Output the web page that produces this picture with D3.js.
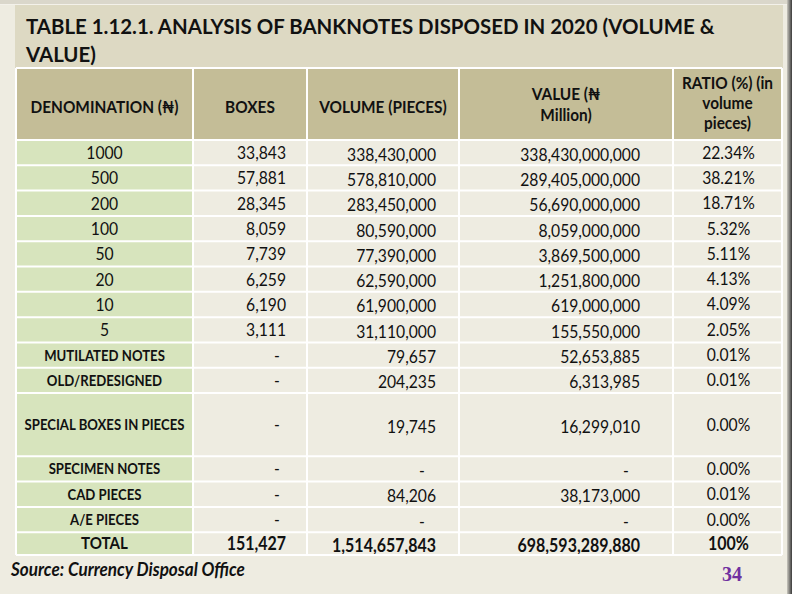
<!DOCTYPE html>
<html><head><meta charset="utf-8">
<script src="https://cdn.jsdelivr.net/npm/d3@7"></script>
<style>
html,body{margin:0;padding:0;background:#EEECE1;}
svg{display:block;}
</style></head>
<body>
<script>
// ---------- DATA ----------
const titleLines = ["TABLE 1.12.1. ANALYSIS OF BANKNOTES DISPOSED IN 2020 (VOLUME &", "VALUE)"];
const headers = [["DENOMINATION (₦)"], ["BOXES"], ["VOLUME (PIECES)"], ["VALUE (₦", "Million)"], ["RATIO (%) (in", "volume", "pieces)"]];
const categories = ["1000","500","200","100","50","20","10","5","MUTILATED NOTES","OLD/REDESIGNED","SPECIAL BOXES IN PIECES","SPECIMEN NOTES","CAD PIECES","A/E PIECES","TOTAL"];
const boxes  = [33843,57881,28345,8059,7739,6259,6190,3111,null,null,null,null,null,null,151427];
const volume = [338430000,578810000,283450000,80590000,77390000,62590000,61900000,31110000,79657,204235,19745,null,84206,null,1514657843];
const value  = [338430000000,289405000000,56690000000,8059000000,3869500000,1251800000,619000000,155550000,52653885,6313985,16299010,null,38173000,null,698593289880];
const ratio  = [22.34,38.21,18.71,5.32,5.11,4.13,4.09,2.05,0.01,0.01,0.00,0.00,0.01,0.00,100];
const sourceText = "Source: Currency Disposal Office";
const pageNumber = "34";

// ---------- LAYOUT ----------
const W = 792, H = 594;
const FONT = "Lato, 'Open Sans', 'DejaVu Sans', sans-serif";
const K = 0.88; // horizontal condensing to mimic a narrow humanist face
const colEdges = [16, 193, 307, 459, 673, 782];
const rowUnits = categories.map(c => c === "SPECIAL BOXES IN PIECES" ? 2.5 : (c === "TOTAL" ? 0.9 : 1));
const bodyTop = 140, bodyBottom = 555, headTop = 68;
const cum = [0]; rowUnits.forEach(u => cum.push(cum[cum.length-1] + u));
const y = d3.scaleLinear().domain([0, cum[cum.length-1]]).range([bodyTop, bodyBottom]);
const x = d3.scaleOrdinal().domain(d3.range(5)).range(colEdges.slice(0,5));
const colW = i => colEdges[i+1] - colEdges[i];

const svg = d3.select("body").append("svg").attr("width", W).attr("height", H);

function fit(text, target, weight, style, k) {
  const t = svg.append("text").attr("font-family", FONT).attr("font-size", 20)
    .attr("font-weight", weight).attr("font-style", style || "normal").text(text);
  const w = t.node().getComputedTextLength(); t.remove();
  return 20 * (target / (k || K)) / w;
}
const fsTitle = fit(titleLines[0], 689, "bold", "normal", 1);
const fsBody = fit("338,430,000", 89, "normal");
const fsHead = fit("DENOMINATION (₦)", 148, "bold");
const fsLabel = fit("SPECIAL BOXES IN PIECES", 160, "bold");
const fsTotal = fit("1,514,657,843", 104, "bold");
const fsSource = fit(sourceText, 234, "bold", "italic");

// background pieces
svg.append("rect").attr("x",0).attr("y",0).attr("width",W).attr("height",H).attr("fill","#EEECE1");
svg.append("rect").attr("x",0).attr("y",0).attr("width",W).attr("height",4).attr("fill","#DAD7CB");
svg.append("rect").attr("x",0).attr("y",4).attr("width",W).attr("height",1).attr("fill","#F3F1EA");
svg.append("rect").attr("x",15).attr("y",5).attr("width",768).attr("height",63).attr("fill","#DDD9C3");
const grad = svg.append("defs").append("linearGradient").attr("id","edge").attr("x1","0").attr("x2","1");
grad.append("stop").attr("offset","0").attr("stop-color","#C9C7BE");
grad.append("stop").attr("offset","1").attr("stop-color","#3A3A3A");
svg.append("rect").attr("x",787).attr("y",0).attr("width",5).attr("height",H).attr("fill","url(#edge)");

// title
svg.append("g").selectAll("text").data(titleLines).join("text")
  .attr("x", 26).attr("y", (d,i) => 34 + i*28)
  .attr("font-family", FONT).attr("font-weight","bold").attr("font-size", fsTitle)
  .attr("fill","#111").text(d => d);

// header cells
const head = svg.append("g");
head.selectAll("rect").data(headers).join("rect")
  .attr("x", (d,i) => x(i)).attr("y", headTop).attr("width", (d,i) => colW(i)).attr("height", bodyTop - headTop)
  .attr("fill","#C4BD97");
const headBase = [[113],[113],[113],[100,121],[89,109,129]];
headers.forEach((lines, i) => {
  head.append("g").selectAll("text").data(lines).join("text").attr("class","cond")
    .attr("x", x(i) + colW(i)/2).attr("y", (d,j) => headBase[i][j])
    .attr("text-anchor","middle").attr("font-family", FONT).attr("font-weight","bold")
    .attr("font-size", fsHead).attr("fill","#111").text(d => d);
});

// body cells
const rows = categories.map((c,i) => ({c, i, top: y(cum[i]), bot: y(cum[i+1]),
  vals: [c, boxes[i], volume[i], value[i], ratio[i]]}));
const body = svg.append("g");
const fmt = d3.format(",");
rows.forEach(r => {
  const g = body.append("g");
  g.selectAll("rect").data(d3.range(5)).join("rect")
    .attr("x", i => x(i)).attr("y", r.top).attr("width", i => colW(i)).attr("height", r.bot - r.top)
    .attr("fill", i => i === 0 ? "#D7E4BD" : "#EEECE1");
  const isNum = r.i < 8;
  const isTotal = r.c === "TOTAL";
  const mid = (r.top + r.bot)/2;
  const weight = (isNum ? "normal" : "bold");
  const bodySize = isTotal ? fsTotal : fsBody;
  g.append("text").attr("class","cond").attr("x", x(0) + colW(0)/2).attr("y", mid + (isNum ? 6.5 : 5.5))
    .attr("text-anchor","middle").attr("font-family", FONT).attr("font-weight", weight)
    .attr("font-size", isNum ? fsBody : (isTotal ? fsLabel*1.15 : fsLabel)).attr("fill","#111").text(r.c);
  const rightPad = [0, 21, 23, 33];
  [1,2,3].forEach(ci => {
    const v = r.vals[ci];
    const rx = colEdges[ci+1] - rightPad[ci];
    const yy = mid + (ci === 1 ? 6.5 : 8);
    const t = g.append("text").attr("class","cond").attr("font-family", FONT).attr("font-size", bodySize)
      .attr("font-weight", isTotal ? "bold" : "normal").attr("fill","#111");
    if (v === null) t.attr("x", rx - (ci === 1 ? 9 : 14)).attr("y", yy).attr("text-anchor","middle").text("-");
    else t.attr("x", rx).attr("y", yy).attr("text-anchor","end").text(fmt(v));
  });
  g.append("text").attr("class","cond").attr("x", x(4) + colW(4)/2 + 1).attr("y", mid + 6)
    .attr("text-anchor","middle").attr("font-family", FONT).attr("font-size", bodySize)
    .attr("font-weight", isTotal ? "bold" : "normal").attr("fill","#111")
    .text(isTotal ? d3.format("d")(r.vals[4]) + "%" : d3.format(".2f")(r.vals[4]) + "%");
});

// grid lines (white)
const grid = svg.append("g").attr("stroke","#FFFFFF").attr("stroke-width",2);
grid.selectAll("line.v").data(colEdges).join("line").attr("class","v")
  .attr("x1", d => d).attr("x2", d => d).attr("y1", headTop).attr("y2", bodyBottom);
grid.selectAll("line.h").data([headTop].concat(cum.map(c => y(c)))).join("line").attr("class","h")
  .attr("x1", colEdges[0]).attr("x2", colEdges[5]).attr("y1", d => d).attr("y2", d => d);

// source + page number
svg.append("text").attr("class","cond").attr("x", 11).attr("y", 576).attr("font-family", FONT).attr("font-weight","bold")
  .attr("font-style","italic").attr("font-size", fsSource).attr("fill","#111").text(sourceText);
svg.append("text").attr("x", 732).attr("y", 581).attr("text-anchor","middle")
  .attr("font-family","'Liberation Serif', 'DejaVu Serif', serif").attr("font-weight","bold")
  .attr("font-size", 20).attr("fill","#7030A0").text(pageNumber);

// condense text horizontally
svg.selectAll("text.cond").each(function() {
  const w = this.getComputedTextLength();
  if (w > 0) { this.setAttribute("textLength", w * K); this.setAttribute("lengthAdjust", "spacingAndGlyphs"); }
});
</script>
</body></html>
